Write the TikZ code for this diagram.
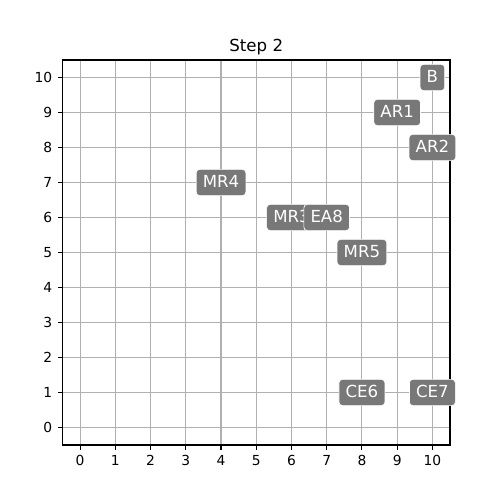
\documentclass[tikz,border=0pt]{standalone}
\usepackage{fontspec}
\setmainfont{DejaVu Sans}
\definecolor{gridgray}{HTML}{B0B0B0}
\definecolor{boxgray}{HTML}{787878}

\begin{document}
\begin{tikzpicture}[x=0.89477cm, y=0.889cm,
	tag/.style={fill=boxgray, draw=white, line width=0.5pt, rounded corners=2.5pt,
		text=white, font=\fontsize{12}{14}\selectfont, inner xsep=4.8pt, inner ysep=0pt,
		minimum height=19pt, text height=8.75pt, text depth=1.2pt},
	ticklabel/.style={font=\fontsize{10}{12}\selectfont, inner sep=0pt, text depth=0pt}]
	\useasboundingbox (-2.2742,-2.0714) rectangle (11.9194,12.2143);
	\coordinate (LL) at (-0.5,-0.5);
	\coordinate (UR) at (10.5,10.5);
	\foreach \i in {0,...,10} {
		\draw[gridgray, line width=0.8pt] (\i,-0.5) -- (\i,10.5);
		\draw[gridgray, line width=0.8pt] (-0.5,\i) -- (10.5,\i);
		\draw[line width=0.8pt] (\i,-0.5) -- ++(0,-3.5pt) node[ticklabel, anchor=north, yshift=-3.5pt] (xt\i) {\i};
		\draw[line width=0.8pt] (-0.5,\i) -- ++(-3.5pt,0) node[ticklabel, anchor=east, xshift=-3.5pt] (yt\i) {\i};
	}
	\draw[line width=0.8pt] (LL) rectangle (UR);
	\node[anchor=base, font=\fontsize{12}{14}\selectfont, inner sep=0pt] (title) at ([yshift=6pt]5,10.5) {Step 2};
	\node[tag] (b) at (10,10) {B};
	\node[tag] (ar1) at (9,9) {AR1};
	\node[tag] (ar2) at (10,8) {AR2};
	\node[tag] (mr4) at (4,7) {MR4};
	\node[tag] (mr3) at (6,6) {MR3};
	\node[tag] (ea8) at (7,6) {EA8};
	\node[tag] (mr5) at (8,5) {MR5};
	\node[tag] (ce6) at (8,1) {CE6};
	\node[tag] (ce7) at (10,1) {CE7};
\end{tikzpicture}
\end{document}
